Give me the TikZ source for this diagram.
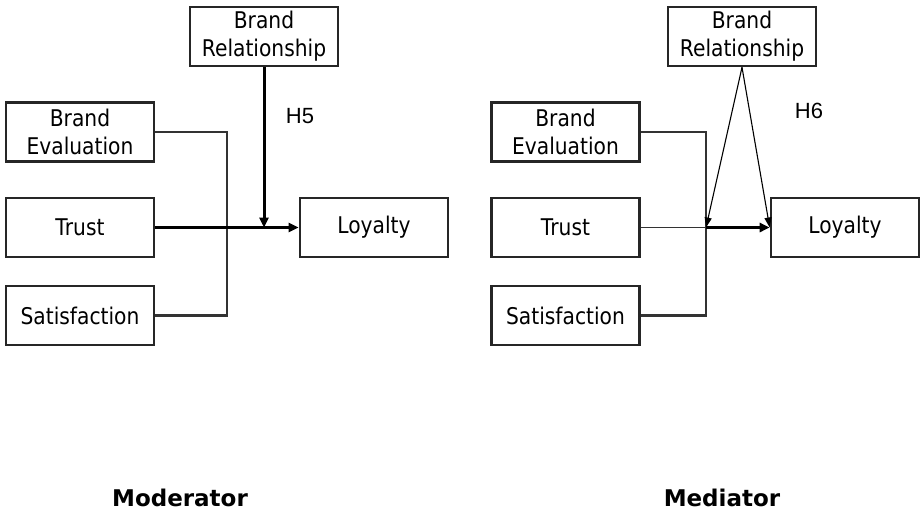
\documentclass[tikz,border=0pt]{standalone}
\usepackage{fontspec}
\newfontfamily\boxfont{DejaVu Sans}[FakeStretch=0.88]
\newfontfamily\labfont{DejaVu Sans}
\newfontfamily\hfont{Liberation Sans}
\usetikzlibrary{arrows.meta}
\begin{document}
\begin{tikzpicture}[x=1pt,y=-1pt,
  varbox/.style={draw=black!85,line width=2.6pt,minimum width=148pt,minimum height=59pt,
    inner sep=0pt,align=center,font=\boxfont\fontsize{23}{28}\selectfont},
  bracket/.style={draw=black!80,line width=2.4pt},
  mainarrow/.style={draw=black,line width=2.4pt,-{Triangle[length=10pt,width=9pt]}},
  thinarrow/.style={draw=black,line width=1.1pt,-{Triangle[length=10pt,width=7pt]}},
  hlab/.style={font=\hfont\fontsize{22}{26}\selectfont,inner sep=0pt},
  title/.style={font=\labfont\bfseries\fontsize{23}{27}\selectfont,inner sep=0pt,anchor=base}]
\useasboundingbox[fill=white] (0,0) rectangle (922,517);
% ---------- Moderator ----------
\node[varbox] (br1) at (264,36.5) {Brand\\Relationship};
\node[varbox] (be1) at (80,132) {Brand\\Evaluation};
\node[varbox] (tr1) at (80,227.5) {Trust};
\node[varbox] (sa1) at (80,315.5) {Satisfaction};
\node[varbox] (lo1) at (374,227.5) {Loyalty};
\coordinate (j1) at (227,227.5);
\coordinate (m1) at (264,227.5);
\draw[bracket] (be1.east) -| (j1) |- (sa1.east);
\draw[mainarrow] (tr1.east) -- (lo1.west);
\draw[mainarrow,line width=3pt] (br1.south) -- (m1);
\node[hlab] (h5) at (300,116) {H5};
\node[title] (mod) at (180,506) {Moderator};
% ---------- Mediator ----------
\node[varbox] (br2) at (742,36.5) {Brand\\Relationship};
\node[varbox] (be2) at (565.5,132) {Brand\\Evaluation};
\node[varbox] (tr2) at (565.5,227.5) {Trust};
\node[varbox] (sa2) at (565.5,315.5) {Satisfaction};
\node[varbox] (lo2) at (845,227.5) {Loyalty};
\coordinate (j2) at (706,227.5);
\draw[bracket] (be2.east) -| (j2) |- (sa2.east);
\draw[draw=black!80,line width=1.6pt] (tr2.east) -- (j2);
\draw[mainarrow,line width=3.4pt] (j2) -- (lo2.west);
\draw[thinarrow] (br2.south) -- (j2);
\draw[thinarrow] (br2.south) -- (lo2.west);
\node[hlab] (h6) at (809,111) {H6};
\node[title] (med) at (722,506) {Mediator};
\end{tikzpicture}
\end{document}
